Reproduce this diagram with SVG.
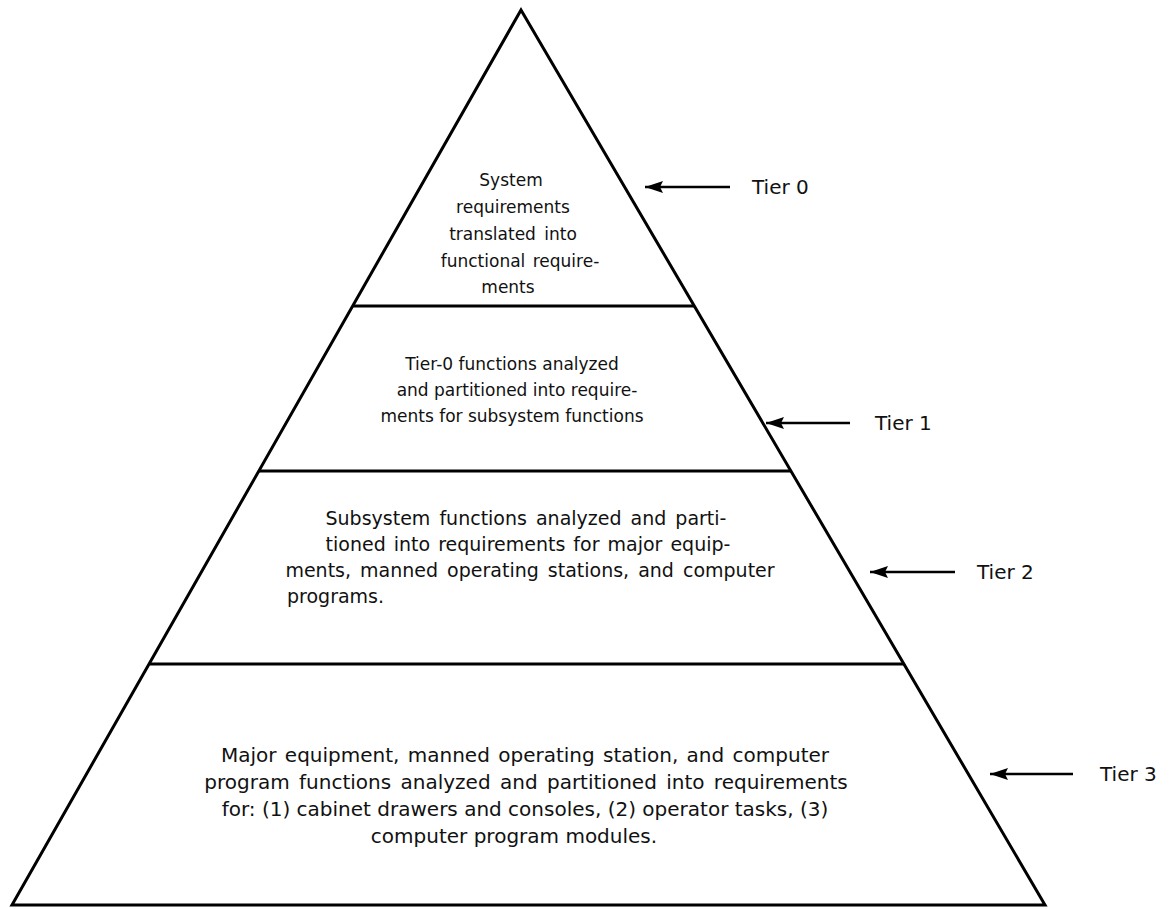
<svg xmlns="http://www.w3.org/2000/svg" width="1175" height="909" viewBox="0 0 1175 909">
<style>
.edge{stroke:#000;stroke-width:3;fill:none;stroke-linejoin:miter}
.arr{stroke:#000;stroke-width:2.5;fill:none}
.t{font-family:"DejaVu Sans","Liberation Sans",Arial,sans-serif;fill:#111;text-anchor:middle}
.s0{font-size:17px}
.s2{font-size:19px}
.s3{font-size:20px}
.lbl{font-family:"DejaVu Sans","Liberation Sans",Arial,sans-serif;font-size:20px;fill:#111}
</style>
<defs>
<marker id="ah" markerWidth="18" markerHeight="14" refX="0" refY="7" orient="auto" markerUnits="userSpaceOnUse">
<path d="M0,7 L18,1 L15,7 L18,13 Z" fill="#000"/>
</marker>
</defs>
<rect width="1175" height="909" fill="#fff"/>
<g id="pyramid">
<path class="edge" d="M521,10 L12,905 L1045,905 Z"/>
<line class="edge" x1="353" y1="306" x2="694" y2="306"/>
<line class="edge" x1="259" y1="471" x2="791" y2="471"/>
<line class="edge" x1="150" y1="664" x2="904" y2="664"/>
</g>
<g id="tier0">
<text class="t s0" x="511" y="186">System</text>
<text class="t s0" x="513" y="213">requirements</text>
<text class="t s0" x="513" y="240" word-spacing="3">translated into</text>
<text class="t s0" x="520" y="267" word-spacing="2">functional require-</text>
<text class="t s0" x="508" y="293">ments</text>
</g>
<g id="tier1">
<text class="t s0" x="512" y="370">Tier-0 functions analyzed</text>
<text class="t s0" x="517" y="396">and partitioned into require-</text>
<text class="t s0" x="512" y="422">ments for subsystem functions</text>
</g>
<g id="tier2">
<text class="t s2" x="526" y="525" word-spacing="3">Subsystem functions analyzed and parti-</text>
<text class="t s2" x="528" y="551" word-spacing="2">tioned into requirements for major equip-</text>
<text class="t s2" x="530" y="577" word-spacing="3">ments, manned operating stations, and computer</text>
<text class="t s2" x="287" y="603" style="text-anchor:start">programs.</text>
</g>
<g id="tier3">
<text class="t s3" x="525" y="762" word-spacing="2">Major equipment, manned operating station, and computer</text>
<text class="t s3" x="526" y="789" word-spacing="3">program functions analyzed and partitioned into requirements</text>
<text class="t s3" x="525" y="816">for: (1) cabinet drawers and consoles, (2) operator tasks, (3)</text>
<text class="t s3" x="514" y="843">computer program modules.</text>
</g>
<g id="connectors">
<line class="arr" marker-start="url(#ah)" x1="645" y1="187" x2="730" y2="187"/>
<line class="arr" marker-start="url(#ah)" x1="766" y1="423" x2="850" y2="423"/>
<line class="arr" marker-start="url(#ah)" x1="870" y1="572" x2="955" y2="572"/>
<line class="arr" marker-start="url(#ah)" x1="990" y1="774" x2="1073" y2="774"/>
</g>
<g id="labels">
<text class="lbl" x="752" y="194">Tier 0</text>
<text class="lbl" x="875" y="430">Tier 1</text>
<text class="lbl" x="977" y="579">Tier 2</text>
<text class="lbl" x="1100" y="781">Tier 3</text>
</g>
</svg>
